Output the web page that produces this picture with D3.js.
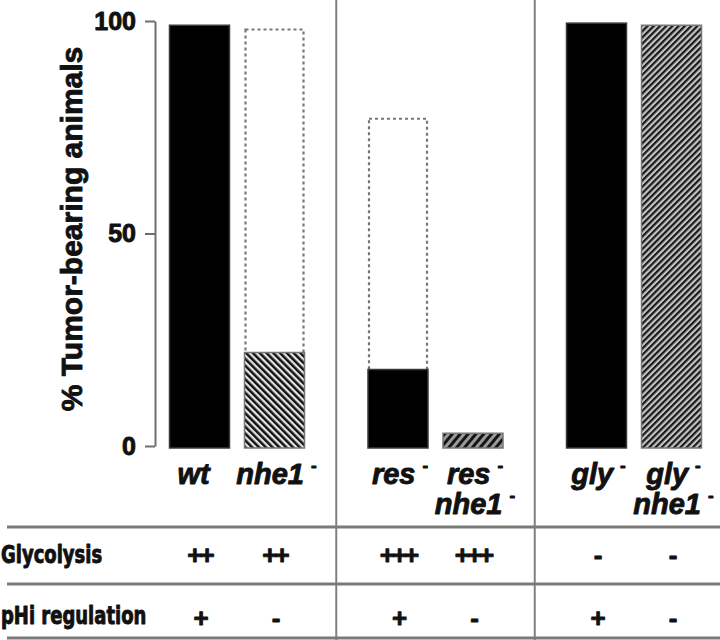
<!DOCTYPE html>
<html><head><meta charset="utf-8">
<script src="https://cdn.jsdelivr.net/npm/d3@7"></script>
<style>
html,body{margin:0;padding:0;background:#fff;}
svg{display:block;}
</style></head>
<body>
<script>
// ---- data ----
const groups = ["g1", "g2", "g3"];
const categories = ["wt", "nhe1", "res", "res nhe1", "gly", "gly nhe1"];
const groupOf = ["g1", "g1", "g2", "g2", "g3", "g3"];
const slotOf = [0, 1, 0, 1, 0, 1];
const labelLines = [
  [["wt", false]],
  [["nhe1", true]],
  [["res", true]],
  [["res", true], ["nhe1", true]],
  [["gly", true]],
  [["gly", true], ["nhe1", true]]
];
const tumorValues = [99, 22, 18, 3, 99.5, 99];          // % tumor-bearing (filled part)
const outlineValues = [null, 98, 77, null, null, null]; // dashed outline bars
const fillTypes = ["solid", "hatchA", "solid", "hatchB", "solid", "hatchC"];
const yTicks = [0, 50, 100];
const yTitle = "% Tumor-bearing animals";
const rowLabels = ["Glycolysis", "pHi regulation"];
const glycolysis = ["++", "++", "+++", "+++", "-", "-"];
const phiRegulation = ["+", "-", "+", "-", "+", "-"];

// ---- setup ----
const W = 720, H = 640;
const svg = d3.select("body").append("svg").attr("width", W).attr("height", H);

const defs = svg.append("defs");
function hatch(id, period, lineW, angle, bg, fg) {
  const p = defs.append("pattern").attr("id", id)
    .attr("patternUnits", "userSpaceOnUse")
    .attr("width", period).attr("height", period)
    .attr("patternTransform", `rotate(${angle})`);
  p.append("rect").attr("width", period).attr("height", period).attr("fill", bg);
  p.append("rect").attr("width", lineW).attr("height", period).attr("fill", fg);
}
hatch("hatchA", 4.8, 2.5, -45, "#e4e4e4", "#111");
hatch("hatchB", 6, 3, 40, "#9a9a9a", "#151515");
hatch("hatchC", 4.4, 2.2, 45, "#c4c4c4", "#1a1a1a");

const y = d3.scaleLinear().domain([0, 100]).range([446, 21]);
const xg = d3.scaleBand().domain(groups).range([137.75, 733.25]).paddingInner(0).paddingOuter(0);
const xi = d3.scaleBand().domain([0, 1]).range([-75, 75]).paddingInner(0.2).paddingOuter(0.1);
const barX = i => xg(groupOf[i]) + xg.bandwidth() / 2 + xi(slotOf[i]);
const barC = i => barX(i) + xi.bandwidth() / 2;

const heavy = sel => sel.attr("stroke", "#111").attr("stroke-width", 0.9).attr("stroke-linejoin", "round");

// ---- separators ----
const sepX = groups.slice(1).map(g => xg(g));
svg.selectAll(".sep").data(sepX).join("line")
  .attr("x1", d => d).attr("x2", d => d).attr("y1", 0).attr("y2", H)
  .attr("stroke", "#808080").attr("stroke-width", 2);

// table horizontal lines
const rowLines = [527, 584, 638];
svg.selectAll(".hl").data(rowLines).join("line")
  .attr("x1", 7).attr("x2", W).attr("y1", d => d).attr("y2", d => d)
  .attr("stroke", "#7a7a7a").attr("stroke-width", 3);

// ---- y axis ----
const yAxis = d3.axisLeft(y).tickValues(yTicks).tickSize(10).tickSizeOuter(0).tickPadding(9);
const ag = svg.append("g").attr("transform", "translate(155,0)").call(yAxis);
ag.select(".domain").attr("stroke", "#6e6e6e").attr("stroke-width", 2);
ag.selectAll(".tick line").attr("stroke", "#6e6e6e").attr("stroke-width", 2);
ag.selectAll(".tick text").attr("fill", "#111")
  .style("font-family", "'Liberation Sans', Arial, sans-serif")
  .style("font-weight", "bold").style("font-size", "25px")
  .call(heavy);

svg.append("text")
  .attr("transform", "translate(82,229) rotate(-90)")
  .attr("text-anchor", "middle")
  .style("font-family", "'Liberation Sans', Arial, sans-serif")
  .style("font-weight", "bold").style("font-size", "30px")
  .attr("fill", "#111")
  .call(heavy)
  .text(yTitle);

// ---- bars ----
const idx = d3.range(categories.length);
svg.selectAll(".outline").data(idx.filter(i => outlineValues[i] != null)).join("rect")
  .attr("x", i => barX(i) + 1).attr("width", xi.bandwidth() - 2)
  .attr("y", i => y(outlineValues[i])).attr("height", i => y(0) - y(outlineValues[i]) + 1)
  .attr("fill", "#fff").attr("stroke", "#777").attr("stroke-width", 2.2)
  .attr("stroke-dasharray", "3,3");

svg.selectAll(".bar").data(idx).join("rect")
  .attr("x", barX).attr("width", xi.bandwidth())
  .attr("y", i => y(tumorValues[i])).attr("height", i => y(0) - y(tumorValues[i]) + 2)
  .attr("fill", i => fillTypes[i] === "solid" ? "#000" : `url(#${fillTypes[i]})`)
  .attr("stroke", i => fillTypes[i] === "solid" ? "#3a3a3a" : "#777")
  .attr("stroke-width", 1.5);

// ---- category labels ----
const labFont = "'Liberation Sans', Arial, sans-serif";
idx.forEach(i => {
  labelLines[i].forEach((ln, k) => {
    const t = svg.append("text")
      .attr("x", barC(i) + (ln[1] ? 2 : -6))
      .attr("y", 484 + k * 30)
      .attr("text-anchor", "middle")
      .style("font-family", labFont).style("font-weight", "bold")
      .style("font-style", "italic").style("font-size", "29px")
      .attr("fill", "#111")
      .call(heavy);
    t.append("tspan").text(ln[0]);
    if (ln[1]) {
      t.append("tspan").attr("dx", 7).attr("dy", -13)
        .style("font-size", "17px").style("font-style", "normal").text("-");
    }
  });
});

// ---- table ----
const tabFont = "'DejaVu Sans Condensed', 'Liberation Sans', Arial, sans-serif";
const rowBase = [563, 624];
rowLabels.forEach((r, k) => {
  svg.append("text")
    .attr("transform", `translate(1,${rowBase[k]}) scale(0.8,1)`)
    .style("font-family", tabFont).style("font-weight", "bold").style("font-size", "25px")
    .attr("fill", "#111").call(heavy).text(r);
});
[glycolysis, phiRegulation].forEach((row, k) => {
  svg.selectAll(".cell" + k).data(idx).join("text")
    .attr("x", i => barC(i)).attr("y", rowBase[k] + (k === 1 ? 3 : 1))
    .attr("text-anchor", "middle")
    .style("font-family", labFont).style("font-weight", "bold").style("font-size", "26px")
    .style("letter-spacing", "-3px")
    .attr("fill", "#111").call(heavy).text(i => row[i]);
});
</script>
</body></html>
